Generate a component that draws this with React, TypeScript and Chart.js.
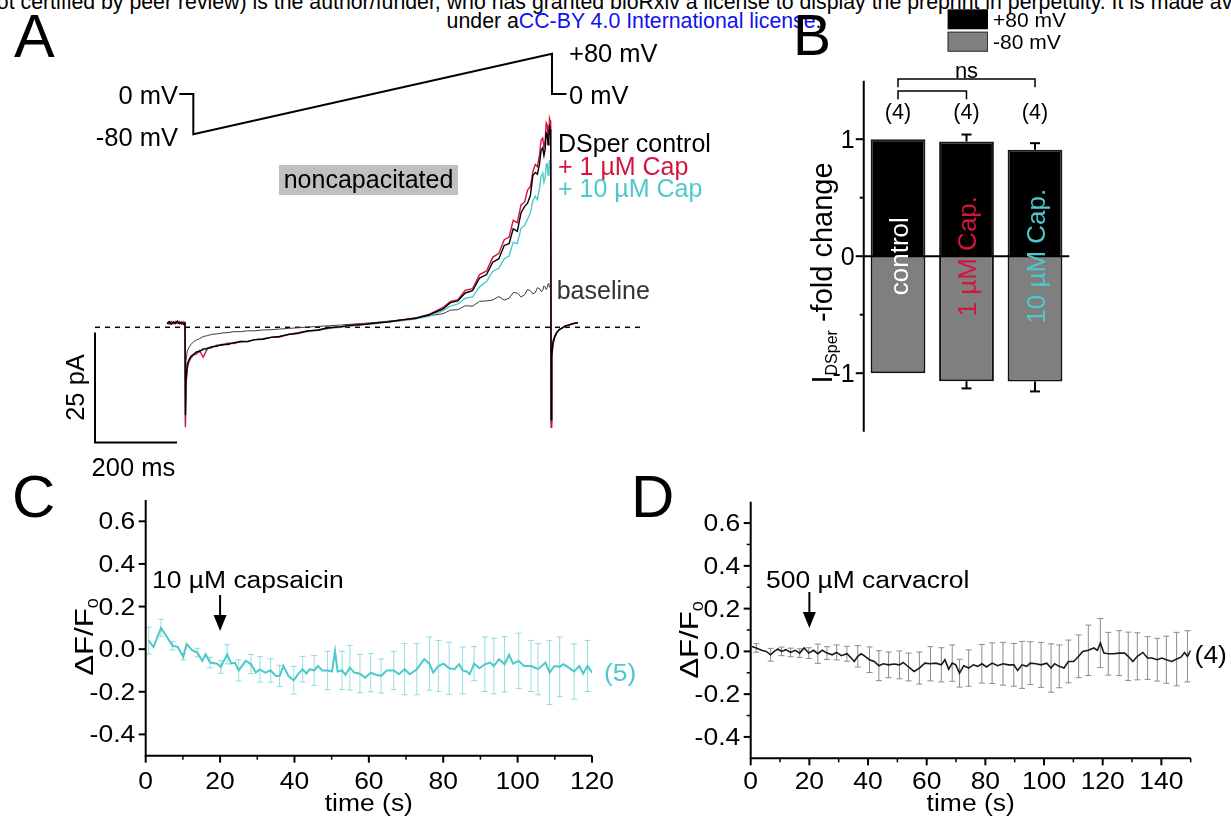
import { useEffect, useRef } from "react";
import { Chart, registerables } from "chart.js";

Chart.register(...registerables);

const W = 1231;
const H = 820;
const FONT = '"Liberation Sans", Arial, Helvetica, sans-serif';
const RED = "#d3143f";
const CYAN = "#4dc8cc";

// ---------------- Panel A : DSper current traces (ms, pA) ----------------
const traceTimeMs = [
  176, 181, 186, 191, 196, 201, 206, 211, 216, 219.5,
  220.5, 222, 225, 229, 234, 240, 247, 255, 264, 274,
  285, 297, 310, 324, 339, 355, 372, 390, 409, 429,
  450, 472, 495, 519, 544, 570, 597, 625, 654, 684,
  715, 747, 780, 814,
  849, 867, 885, 903, 921, 938, 955, 970, 985, 998,
  1010, 1020, 1030, 1039, 1048, 1055, 1062, 1068, 1074, 1079,
  1084, 1088, 1092, 1095, 1098, 1100.5, 1103, 1105, 1107, 1108.5,
  1110, 1111.5,
  1112.5, 1114, 1117, 1121, 1126, 1132, 1139, 1147, 1156, 1166, 1178,
];
const controlPA = [
  0.8, 1.3, 0.7, 1.2, 0.9, 1.4, 0.8, 1.1, 0.7, 1.0,
  -20, -12, -8.5, -7.4, -6.6, -6.2, -5.6, -5.5, -4.9, -4.9,
  -4.4, -4.3, -3.9, -3.9, -3.5, -3.3, -3.2, -2.8, -2.7, -2.3,
  -2.1, -1.6, -1.3, -0.8, -0.6, -0.1, 0.1, 0.5, 0.6, 1.0,
  1.2, 1.7, 2.0, 2.8,
  4.2, 5.6, 6.0, 7.8, 8.3, 11.2, 12.0, 14.8, 15.6, 18.6,
  19.0, 22.4, 21.8, 26.0, 27.5, 28.2, 30.0, 34.5, 35.2, 34.8,
  37.0, 40.2, 40.8, 39.0, 40.5, 44.2, 43.8, 41.5, 42.5, 46.0,
  45.0, 43.5,
  -21, -6.5, -3.5, -2.2, -1.2, -0.5, -0.2, 0.3, 0.5, 0.9, 1.0,
];
const cap1PA = [
  1.1, 0.7, 1.3, 0.8, 1.2, 0.9, 1.3, 0.7, 1.2, 0.9,
  -22.7, -13, -9.5, -7.8, -7.0, -6.3, -6.1, -5.3, -6.8, -4.8,
  -4.6, -4.1, -4.1, -3.6, -3.7, -3.2, -3.3, -2.8, -2.7, -2.3,
  -2.2, -1.6, -1.4, -0.8, -0.7, -0.1, 0.1, 0.4, 0.7, 0.9,
  1.3, 1.6, 2.1, 2.9,
  4.5, 5.9, 6.3, 8.4, 8.8, 12.0, 12.8, 15.9, 16.8, 19.9,
  20.5, 24.3, 23.8, 27.8, 28.5, 31.2, 32.0, 35.4, 37.0, 36.5,
  39.0, 42.5, 43.0, 41.0, 42.5, 46.5, 46.0, 43.5, 44.0, 47.5,
  47.0, 45.0,
  -22.7, -7, -3.8, -2.4, -1.3, -0.6, -0.2, 0.3, 0.6, 0.8, 1.1,
];
const cap10PA = [
  1.0, 1.3, 0.8, 1.1, 1.4, 0.9, 1.2, 1.0, 1.3, 0.8,
  -22, -12.5, -9.0, -7.6, -6.9, -6.1, -5.9, -5.2, -5.2, -4.6,
  -4.6, -4.0, -4.0, -3.6, -3.6, -3.1, -3.2, -2.8, -2.6, -2.3,
  -2.1, -1.7, -1.3, -1.0, -0.6, -0.3, 0.0, 0.3, 0.6, 0.8,
  1.2, 1.5, 1.9, 2.5,
  3.8, 4.8, 5.3, 6.6, 6.9, 9.2, 10.4, 12.7, 13.4, 15.6,
  16.2, 19.3, 19.0, 22.5, 23.2, 24.6, 26.0, 28.8, 29.8, 29.0,
  31.5, 34.2, 35.0, 33.0, 34.0, 37.0, 37.2, 34.6, 35.5, 38.0,
  37.0, 35.8,
  -22, -6.8, -3.7, -2.3, -1.3, -0.6, -0.2, 0.2, 0.5, 0.8, 1.0,
];
const baselinePA = [
  1.2, 0.8, 1.3, 1.0, 0.7, 1.2, 0.9, 1.3, 0.8, 1.1,
  -14, -7.5, -5.4, -4.6, -3.9, -3.3, -2.9, -2.6, -2.1, -1.9,
  -1.6, -1.5, -1.3, -1.2, -1.0, -1.0, -0.8, -0.8, -0.6, -0.55,
  -0.4, -0.25, -0.1, 0.05, 0.2, 0.35, 0.5, 0.7, 0.9, 1.1,
  1.4, 1.7, 2.1, 2.6,
  3.1, 3.9, 4.0, 4.9, 4.8, 5.9, 6.0, 6.2, 7.0, 6.2,
  6.6, 7.9, 7.8, 6.9, 7.4, 8.6, 8.3, 7.6, 7.9, 9.0,
  8.8, 8.1, 8.4, 9.4, 9.2, 8.6, 9.0, 9.9, 9.8, 9.1,
  9.3, 9.6,
  -16, -5.5, -3.0, -1.9, -1.1, -0.5, -0.1, 0.3, 0.5, 0.8, 1.0,
];
const protocolTimeMs = [205.6, 239.8, 239.8, 1114.6, 1114.6, 1150];
const protocolMV = [0, 0, -80, 80, 0, 0];
const scaleBarTimeMs = [0, 0, 200];
const scaleBarPA = [-1.2, -26.2, -26.2];
const zeroLineTimeMs = [0, 1341];
const zeroLinePA = [0, 0];

// ---------------- Panel B : fold change ----------------
const bCategories = ["control", "1 \u00b5M Cap.", "10 \u00b5M Cap."];
const bPlus80 = [1, 0.98, 0.91];
const bPlus80Err = [0, 0.06, 0.056];
const bMinus80 = [-1, -1.068, -1.07];
const bMinus80Err = [0, 0.062, 0.086];
const bN = ["(4)", "(4)", "(4)"];
const bTicks = [-1, 0, 1];
const bMinorTicks = [-0.5, 0.5];

// ---------------- Panel C : 10 uM capsaicin ----------------
const cTime = [
  0.8, 2.1, 4.1, 5.8, 7.2, 8.6, 10.1, 11.0, 12.5, 13.9,
  15.2, 16.1, 17.3, 19.2, 20.2, 21.9, 23.0, 24.0, 25.0, 26.9,
  28.3, 29.6, 30.7, 32.1, 33.6, 35.0, 36.0, 37.0, 38.4, 39.8,
  41.1, 42.2, 43.2, 44.1, 45.3, 46.3, 47.5, 48.9, 50.1, 50.9,
  51.6, 52.8, 53.7, 54.9, 56.1, 57.6, 59.0, 60.5, 61.9, 63.3,
  64.8, 66.7, 68.1, 69.6, 71.0, 72.9, 74.9, 76.3, 77.3, 78.7,
  80.1, 81.6, 83.0, 84.3, 85.2, 86.4, 87.1, 88.3, 89.7, 91.2,
  92.6, 93.6, 95.0, 96.5, 97.7, 98.8, 100.3, 101.7, 103.6, 105.5,
  107.5, 108.6, 109.9, 111.3, 112.3, 113.7, 115.2, 116.6, 117.6, 118.8,
  120.0,
];
const cMean = [
  0.04, 0.01, 0.10, 0.055, 0.016, 0.011, -0.036, 0.024, -0.005, -0.016,
  -0.055, -0.024, -0.063, -0.068, -0.083, -0.024, -0.068, -0.063, -0.10, -0.055,
  -0.07, -0.11, -0.095, -0.11, -0.10, -0.126, -0.126, -0.079, -0.126, -0.146,
  -0.115, -0.094, -0.115, -0.094, -0.10, -0.079, -0.10, -0.10, -0.105, -0.008,
  -0.105, -0.10, -0.12, -0.087, -0.11, -0.115, -0.134, -0.11, -0.12, -0.126,
  -0.10, -0.10, -0.118, -0.094, -0.118, -0.094, -0.047, -0.068, -0.11, -0.079,
  -0.068, -0.09, -0.094, -0.071, -0.10, -0.105, -0.118, -0.068, -0.09, -0.071,
  -0.063, -0.079, -0.047, -0.071, -0.027, -0.068, -0.055, -0.079, -0.079, -0.094,
  -0.063, -0.11, -0.079, -0.083, -0.071, -0.087, -0.105, -0.079, -0.115, -0.079,
  -0.11,
];
const cErrTime = [
  0.8, 4.1, 7.2, 10.1, 13.9, 17.3, 20.2, 21.9, 25.0, 28.3,
  30.7, 33.6, 36.0, 39.8, 42.2, 45.3, 48.9, 52.8, 54.9, 57.6,
  60.5, 63.3, 66.7, 69.6, 72.9, 76.3, 78.7, 81.6, 85.2, 88.3,
  91.2, 93.6, 96.5, 100.3, 103.6, 105.5, 108.6, 111.3, 115.2, 118.8,
];
const cErrSem = [
  0.063, 0.04, 0.02, 0.015, 0.02, 0.025, 0.03, 0.045, 0.05, 0.045,
  0.06, 0.055, 0.05, 0.065, 0.06, 0.07, 0.09, 0.09, 0.105, 0.09,
  0.09, 0.08, 0.09, 0.12, 0.12, 0.125, 0.12, 0.122, 0.11, 0.08,
  0.128, 0.13, 0.13, 0.13, 0.12, 0.12, 0.15, 0.14, 0.13, 0.12,
];
const cXTicks = [0, 20, 40, 60, 80, 100, 120];
const cXMinor = [10, 30, 50, 70, 90, 110];
const cYTicks = [-0.4, -0.2, 0, 0.2, 0.4, 0.6];

// ---------------- Panel D : 500 uM carvacrol ----------------
const dTime = [
  0.4, 1.9, 3.7, 5.3, 6.8, 8.0, 9.3, 10.5, 12.0, 13.6,
  15.2, 16.7, 18.2, 19.8, 21.4, 22.9, 24.4, 26.0, 27.8, 29.3,
  30.9, 32.8, 34.3, 35.3, 36.5, 37.7, 39.0, 40.5, 42.1, 43.7,
  45.2, 47.0, 48.9, 50.7, 52.0, 53.8, 55.7, 57.5, 59.4, 61.3,
  63.1, 65.0, 66.2, 67.5, 68.7, 69.9, 71.2, 72.6, 74.3, 75.9,
  77.4, 78.8, 80.4, 82.3, 84.2, 86.0, 87.9, 89.7, 91.0, 92.5,
  94.1, 95.3, 97.2, 99.0, 100.9, 102.4, 103.6, 105.2, 106.8, 108.3,
  110.1, 111.8, 113.2, 115.1, 117.0, 118.2, 119.2, 120.4, 121.9, 123.8,
  125.6, 127.5, 128.7, 130.3, 131.8, 133.7, 135.3, 136.8, 138.6, 140.2,
  141.7, 143.6, 145.2, 146.7, 147.9, 148.9, 150.0,
];
const dMean = [
  0.023, 0.016, 0.005, 0.0, -0.016, 0.0, 0.011, 0.0, 0.008, -0.005,
  0.005, -0.008, 0.016, -0.008, 0.005, -0.011, 0.005, -0.008, -0.016, -0.005,
  -0.02, -0.011, -0.031, -0.047, -0.023, -0.011, -0.023, -0.039, -0.047, -0.067,
  -0.058, -0.063, -0.059, -0.063, -0.052, -0.073, -0.094, -0.078, -0.055, -0.058,
  -0.055, -0.063, -0.039, -0.083, -0.055, -0.063, -0.102, -0.067, -0.078, -0.063,
  -0.07, -0.058, -0.073, -0.055, -0.067, -0.058, -0.063, -0.063, -0.089, -0.063,
  -0.07, -0.055, -0.058, -0.063, -0.055, -0.078, -0.058, -0.07, -0.078, -0.047,
  -0.047, -0.023, 0.0, 0.005, 0.016, 0.005, 0.039, -0.008, -0.011, -0.011,
  -0.008, -0.008, -0.023, -0.047, -0.023, -0.005, -0.031, -0.031, -0.039, -0.031,
  -0.039, -0.047, -0.036, -0.027, -0.005, -0.023, 0.005,
];
const dErrTime = [
  1.9, 6.8, 10.5, 13.6, 16.7, 19.8, 22.9, 26.0, 29.3, 32.8,
  36.5, 40.5, 43.7, 47.0, 50.7, 53.8, 57.5, 61.3, 65.0, 68.7,
  71.2, 74.3, 78.8, 82.3, 86.0, 89.7, 92.5, 95.3, 99.0, 102.4,
  105.2, 108.3, 111.8, 115.1, 119.2, 121.9, 125.6, 128.7, 131.8, 135.3,
  138.6, 141.7, 145.2, 148.9,
];
const dErrSem = [
  0.02, 0.03, 0.02, 0.02, 0.02, 0.025, 0.045, 0.03, 0.035, 0.035,
  0.05, 0.06, 0.07, 0.06, 0.065, 0.065, 0.075, 0.08, 0.08, 0.085,
  0.065, 0.085, 0.09, 0.095, 0.1, 0.1, 0.11, 0.1, 0.105, 0.113,
  0.1, 0.1, 0.1, 0.118, 0.115, 0.1, 0.105, 0.113, 0.11, 0.1,
  0.1, 0.11, 0.125, 0.12,
];
const dXTicks = [0, 20, 40, 60, 80, 100, 120, 140];
const dXMinor = [10, 30, 50, 70, 90, 110, 130, 150];
const dYTicks = [-0.4, -0.2, 0, 0.2, 0.4, 0.6];
const dYMinor = [-0.3, -0.1, 0.1, 0.3, 0.5];

// ---------------- helpers ----------------
type Pt = [number, number];

function stroke(ctx: CanvasRenderingContext2D, pts: Pt[], width = 2, color = "#000", dash: number[] = []) {
  ctx.save();
  ctx.beginPath();
  ctx.lineWidth = width;
  ctx.strokeStyle = color;
  ctx.setLineDash(dash);
  pts.forEach(([x, y], i) => (i ? ctx.lineTo(x, y) : ctx.moveTo(x, y)));
  ctx.stroke();
  ctx.restore();
}

type TextOpts = { size: number; color?: string; align?: CanvasTextAlign; rot?: number; sx?: number };

function label(ctx: CanvasRenderingContext2D, s: string, x: number, y: number, o: TextOpts) {
  ctx.save();
  ctx.font = `${o.size}px ${FONT}`;
  ctx.fillStyle = o.color || "#000";
  ctx.textAlign = o.align || "left";
  ctx.textBaseline = "alphabetic";
  ctx.translate(x, y);
  if (o.rot) ctx.rotate(o.rot);
  if (o.sx) ctx.scale(o.sx, 1);
  ctx.fillText(s, 0, 0);
  ctx.restore();
}

function subLabel(
  ctx: CanvasRenderingContext2D,
  parts: { s: string; size: number; dy: number }[],
  x: number,
  y: number,
  rot: number,
  sx = 1
) {
  ctx.save();
  ctx.translate(x, y);
  ctx.rotate(rot);
  ctx.scale(sx, 1);
  ctx.fillStyle = "#000";
  ctx.textBaseline = "alphabetic";
  ctx.textAlign = "left";
  const widths = parts.map((p) => {
    ctx.font = `${p.size}px ${FONT}`;
    return ctx.measureText(p.s).width;
  });
  let cx = -widths.reduce((a, b) => a + b, 0) / 2;
  parts.forEach((p, i) => {
    ctx.font = `${p.size}px ${FONT}`;
    ctx.fillText(p.s, cx, p.dy);
    cx += widths[i];
  });
  ctx.restore();
}

function xy(xs: number[], ys: number[]) {
  return xs.map((x, i) => ({ x, y: ys[i] }));
}

function lineDs(data: any[], color: string, width: number, extra: any = {}) {
  return {
    type: "line",
    data,
    borderColor: color,
    borderWidth: width,
    pointRadius: 0,
    fill: false,
    tension: 0,
    ...extra,
  };
}

function baseOptions(padding: any, scales: any) {
  return {
    responsive: false,
    maintainAspectRatio: false,
    animation: false,
    devicePixelRatio: 1,
    events: [],
    layout: { padding },
    plugins: { legend: { display: false }, tooltip: { enabled: false } },
    scales,
  };
}

// ---------------- Panel A config ----------------
function configA(): any {
  const plug = {
    id: "panelA",
    afterDatasetsDraw(chart: any) {
      const ctx = chart.ctx as CanvasRenderingContext2D;
      label(ctx, "A", 14, 57, { size: 61 });
      label(ctx, "0 mV", 178, 104, { size: 25.5, align: "right" });
      label(ctx, "-80 mV", 178, 145.5, { size: 25.5, align: "right" });
      label(ctx, "+80 mV", 569, 62, { size: 25.5 });
      label(ctx, "0 mV", 569, 104, { size: 25.5 });
      ctx.fillStyle = "#c0c0c0";
      ctx.fillRect(279, 165, 179, 30);
      label(ctx, "noncapacitated", 368.5, 188, { size: 25, align: "center" });
      label(ctx, "DSper control", 558, 152, { size: 25 });
      label(ctx, "+ 1 \u00b5M Cap", 558, 174.5, { size: 25, color: RED });
      label(ctx, "+ 10 \u00b5M Cap", 558, 197, { size: 25, color: CYAN });
      label(ctx, "baseline", 556.7, 299, { size: 25, color: "#333" });
      label(ctx, "25 pA", 83.5, 387.5, { size: 25.5, align: "center", rot: -Math.PI / 2 });
      label(ctx, "200 ms", 91.6, 476, { size: 25.5 });
    },
  };
  return {
    type: "line",
    data: {
      datasets: [
        lineDs(xy(zeroLineTimeMs, zeroLinePA), "#000", 1.5, { borderDash: [5, 5], order: 10 }),
        lineDs(xy(traceTimeMs, baselinePA), "#3c3c3c", 1, { order: 6 }),
        lineDs(xy(traceTimeMs, cap10PA), CYAN, 1.4, { order: 5 }),
        lineDs(xy(traceTimeMs, cap1PA), RED, 1.4, { order: 4 }),
        lineDs(xy(traceTimeMs, controlPA), "#000", 1.4, { order: 3 }),
        lineDs(xy(scaleBarTimeMs, scaleBarPA), "#000", 2, { order: 1 }),
        lineDs(xy(protocolTimeMs, protocolMV), "#000", 2, { order: 1, yAxisID: "yV" }),
      ],
    },
    options: baseOptions(
      { left: 80, top: 30, right: W - 660, bottom: H - 460 },
      {
        x: { type: "linear", display: false, min: -36.59, max: 1378.05 },
        y: { type: "linear", display: false, min: -30.16, max: 67.57 },
        yV: { type: "linear", display: false, min: -726.19, max: 126.98 },
      }
    ),
    plugins: [plug],
  };
}

// ---------------- Panel B config ----------------
function configB(): any {
  const labelColors = ["#ffffff", RED, CYAN];
  const plug = {
    id: "panelB",
    afterDatasetsDraw(chart: any) {
      const ctx = chart.ctx as CanvasRenderingContext2D;
      const xs = chart.scales.x;
      const ys = chart.scales.y;
      const L = xs.left;
      const y0 = ys.getPixelForValue(0);
      bCategories.forEach((_, i) => {
        const cx = xs.getPixelForValue(i);
        if (bPlus80Err[i] > 0) {
          const a = ys.getPixelForValue(bPlus80[i]);
          const b = ys.getPixelForValue(bPlus80[i] + bPlus80Err[i]);
          stroke(ctx, [[cx, a], [cx, b]], 2);
          stroke(ctx, [[cx - 5, b], [cx + 5, b]], 2);
        }
        if (bMinus80Err[i] > 0) {
          const a = ys.getPixelForValue(bMinus80[i]);
          const b = ys.getPixelForValue(bMinus80[i] - bMinus80Err[i]);
          stroke(ctx, [[cx, a], [cx, b]], 2);
          stroke(ctx, [[cx - 5, b], [cx + 5, b]], 2);
        }
      });
      stroke(ctx, [[L, y0], [xs.right, y0]], 2);
      stroke(ctx, [[L, ys.top], [L, ys.bottom]], 2);
      bTicks.forEach((v) => {
        const py = ys.getPixelForValue(v);
        stroke(ctx, [[L - 8, py], [L, py]], 2);
        label(ctx, String(v), L - 9, py + 8.8, { size: 25, align: "right" });
      });
      bMinorTicks.forEach((v) => {
        const py = ys.getPixelForValue(v);
        stroke(ctx, [[L - 4, py], [L, py]], 2);
      });
      bCategories.forEach((c, i) => {
        label(ctx, c, xs.getPixelForValue(i) + 9.5, y0, {
          size: 26,
          color: labelColors[i],
          align: "center",
          rot: -Math.PI / 2,
        });
      });
      bN.forEach((n, i) => label(ctx, n, xs.getPixelForValue(i), 119, { size: 21.5, align: "center" }));
      const c0 = xs.getPixelForValue(0);
      const c1 = xs.getPixelForValue(1);
      const c2 = xs.getPixelForValue(2);
      stroke(ctx, [[c0, 87.3], [c0, 79], [c2, 79], [c2, 87.3]], 1.5);
      stroke(ctx, [[c0, 99.3], [c0, 91], [c1, 91], [c1, 99.3]], 1.5);
      label(ctx, "ns", (c0 + c2) / 2, 77.5, { size: 22, align: "center" });
      // legend
      ctx.fillStyle = "#000";
      ctx.fillRect(947.6, 9.3, 40.4, 20);
      ctx.fillStyle = "#7f7f7f";
      ctx.fillRect(947.6, 31.7, 40.4, 20);
      ctx.strokeStyle = "#333";
      ctx.lineWidth = 1;
      ctx.strokeRect(948.1, 32.2, 39.4, 19);
      label(ctx, "+80 mV", 993, 26.5, { size: 21 });
      label(ctx, "-80 mV", 993, 48.5, { size: 21 });
      // y title
      subLabel(
        ctx,
        [
          { s: "I", size: 29, dy: 0 },
          { s: "DSper", size: 16, dy: 5 },
          { s: " -fold change", size: 29, dy: 0 },
        ],
        831.7,
        273,
        -Math.PI / 2
      );
      label(ctx, "B", 793, 55, { size: 57 });
    },
  };
  return {
    type: "bar",
    data: {
      labels: bCategories,
      datasets: [
        {
          data: bPlus80,
          backgroundColor: "#000000",
          borderColor: "#1a1a1a",
          borderWidth: 2,
          barPercentage: 0.8,
          categoryPercentage: 1,
        },
        {
          data: bMinus80,
          backgroundColor: "#7f7f7f",
          borderColor: "#111111",
          borderWidth: 2,
          barPercentage: 0.8,
          categoryPercentage: 1,
        },
      ],
    },
    options: baseOptions(
      { left: 863.75, top: 80.7, right: W - 1069.25, bottom: H - 431.7 },
      {
        x: { type: "category", display: false, stacked: true },
        y: { type: "linear", display: false, stacked: true, min: -1.5, max: 1.5 },
      }
    ),
    plugins: [plug],
  };
}

// ---------------- Panels C & D config ----------------
type TC = {
  id: string;
  times: number[];
  mean: number[];
  errTimes: number[];
  errSem: number[];
  color: string;
  errColor: string;
  width: number;
  xMax: number;
  xTicks: number[];
  xMinor: number[];
  yTicks: number[];
  yMinor: number[];
  pad: { left: number; top: number; right: number; bottom: number };
  letter: string;
  letterX: number;
  agent: string;
  agentX: number;
  arrowT: number;
  arrowTop: number;
  arrowTip: number;
  nLabel: string;
  nX: number;
  nY: number;
  nColor: string;
  titleX: number;
  titleY: number;
};

function configTC(p: TC): any {
  const SX = 1.15;
  const plug = {
    id: p.id,
    beforeDatasetsDraw(chart: any) {
      const ctx = chart.ctx as CanvasRenderingContext2D;
      const xs = chart.scales.x;
      const ys = chart.scales.y;
      p.errTimes.forEach((t, k) => {
        const i = p.times.indexOf(t);
        if (i < 0) return;
        const px = xs.getPixelForValue(t);
        const y1 = ys.getPixelForValue(p.mean[i] + p.errSem[k]);
        const y2 = ys.getPixelForValue(p.mean[i] - p.errSem[k]);
        stroke(ctx, [[px, y1], [px, y2]], 1, p.errColor);
        stroke(ctx, [[px - 3, y1], [px + 3, y1]], 1, p.errColor);
        stroke(ctx, [[px - 3, y2], [px + 3, y2]], 1, p.errColor);
      });
    },
    afterDatasetsDraw(chart: any) {
      const ctx = chart.ctx as CanvasRenderingContext2D;
      const xs = chart.scales.x;
      const ys = chart.scales.y;
      const L = xs.left;
      const R = xs.right;
      const T = ys.top;
      const B = ys.bottom;
      stroke(ctx, [[L, T], [L, B], [R, B]], 2);
      p.yTicks.forEach((v) => {
        const py = ys.getPixelForValue(v);
        stroke(ctx, [[L - 7, py], [L, py]], 2);
        label(ctx, v.toFixed(1), L - 10.5, py + 8.1, { size: 23, align: "right", sx: SX });
      });
      p.yMinor.forEach((v) => {
        const py = ys.getPixelForValue(v);
        stroke(ctx, [[L - 4, py], [L, py]], 1.5);
      });
      p.xTicks.forEach((v) => {
        const px = xs.getPixelForValue(v);
        stroke(ctx, [[px, B], [px, B + 7]], 2);
        label(ctx, String(v), px, 788.5, { size: 23, align: "center", sx: SX });
      });
      p.xMinor.forEach((v) => {
        const px = xs.getPixelForValue(v);
        stroke(ctx, [[px, B], [px, B + 4]], 1.5);
      });
      label(ctx, "time (s)", (L + R) / 2, 811, { size: 23, align: "center", sx: SX });
      subLabel(
        ctx,
        [
          { s: "\u0394F/F", size: 26, dy: 0 },
          { s: "0", size: 15, dy: 5 },
        ],
        p.titleX,
        p.titleY,
        -Math.PI / 2,
        1.2
      );
      label(ctx, p.agent, p.agentX, 588, { size: 23, sx: SX });
      const ax = xs.getPixelForValue(p.arrowT);
      stroke(ctx, [[ax, p.arrowTop], [ax, p.arrowTip - 14]], 2);
      ctx.save();
      ctx.fillStyle = "#000";
      ctx.beginPath();
      ctx.moveTo(ax - 6.5, p.arrowTip - 16);
      ctx.lineTo(ax + 6.5, p.arrowTip - 16);
      ctx.lineTo(ax, p.arrowTip);
      ctx.closePath();
      ctx.fill();
      ctx.restore();
      label(ctx, p.nLabel, p.nX, p.nY, { size: 23, sx: SX, color: p.nColor });
      label(ctx, p.letter, p.letterX, 517, { size: 60 });
    },
  };
  return {
    type: "line",
    data: {
      datasets: [lineDs(xy(p.times, p.mean), p.color, p.width)],
    },
    options: baseOptions(p.pad, {
      x: { type: "linear", display: false, min: 0, max: p.xMax },
      y: { type: "linear", display: false, min: -0.5, max: 0.7 },
    }),
    plugins: [plug],
  };
}

function configC() {
  return configTC({
    id: "panelC",
    times: cTime,
    mean: cMean,
    errTimes: cErrTime,
    errSem: cErrSem,
    color: CYAN,
    errColor: "rgba(77,200,204,0.6)",
    width: 2,
    xMax: 120,
    xTicks: cXTicks,
    xMinor: cXMinor,
    yTicks: cYTicks,
    yMinor: [],
    pad: { left: 145.7, top: 500, right: W - 592, bottom: H - 755.7 },
    letter: "C",
    letterX: 12,
    agent: "10 \u00b5M capsaicin",
    agentX: 152,
    arrowT: 20,
    arrowTop: 595,
    arrowTip: 631,
    nLabel: "(5)",
    nX: 604,
    nY: 681,
    nColor: CYAN,
    titleX: 93,
    titleY: 637,
  });
}

function configD() {
  return configTC({
    id: "panelD",
    times: dTime,
    mean: dMean,
    errTimes: dErrTime,
    errSem: dErrSem,
    color: "#1a1a1a",
    errColor: "#8c8c8c",
    width: 1.6,
    xMax: 150,
    xTicks: dXTicks,
    xMinor: dXMinor,
    yTicks: dYTicks,
    yMinor: dYMinor,
    pad: { left: 750.7, top: 501.7, right: W - 1190.7, bottom: H - 758.3 },
    letter: "D",
    letterX: 631,
    agent: "500 \u00b5M carvacrol",
    agentX: 766,
    arrowT: 20,
    arrowTop: 592,
    arrowTip: 628,
    nLabel: "(4)",
    nX: 1194.6,
    nY: 663,
    nColor: "#000",
    titleX: 698,
    titleY: 640,
  });
}

export default function App() {
  const refA = useRef<HTMLCanvasElement | null>(null);
  const refB = useRef<HTMLCanvasElement | null>(null);
  const refC = useRef<HTMLCanvasElement | null>(null);
  const refD = useRef<HTMLCanvasElement | null>(null);

  useEffect(() => {
    const charts: Chart[] = [];
    if (refA.current) charts.push(new Chart(refA.current, configA()));
    if (refB.current) charts.push(new Chart(refB.current, configB()));
    if (refC.current) charts.push(new Chart(refC.current, configC()));
    if (refD.current) charts.push(new Chart(refD.current, configD()));
    return () => charts.forEach((c) => c.destroy());
  }, []);

  const canvasStyle: any = { position: "absolute", left: 0, top: 0, width: W, height: H };
  const headStyle: any = {
    position: "absolute",
    whiteSpace: "nowrap",
    font: `21.3px ${FONT}`,
    lineHeight: "21.3px",
    color: "#000",
  };

  return (
    <div
      style={{
        position: "absolute",
        left: 0,
        top: 0,
        width: W,
        height: H,
        background: "#fff",
        overflow: "hidden",
      }}
    >
      <div style={{ ...headStyle, left: -15, top: -8.1 }}>
        not certified by peer review) is the author/funder, who has granted bioRxiv a license to display the preprint in perpetuity. It is made available
      </div>
      <div style={{ ...headStyle, left: 446.6, top: 10.9 }}>
        under a<span style={{ color: "#1010f0" }}>CC-BY 4.0 International license</span>.
      </div>
      <canvas ref={refA} width={W} height={H} style={canvasStyle} />
      <canvas ref={refB} width={W} height={H} style={canvasStyle} />
      <canvas ref={refC} width={W} height={H} style={canvasStyle} />
      <canvas ref={refD} width={W} height={H} style={canvasStyle} />
    </div>
  );
}
